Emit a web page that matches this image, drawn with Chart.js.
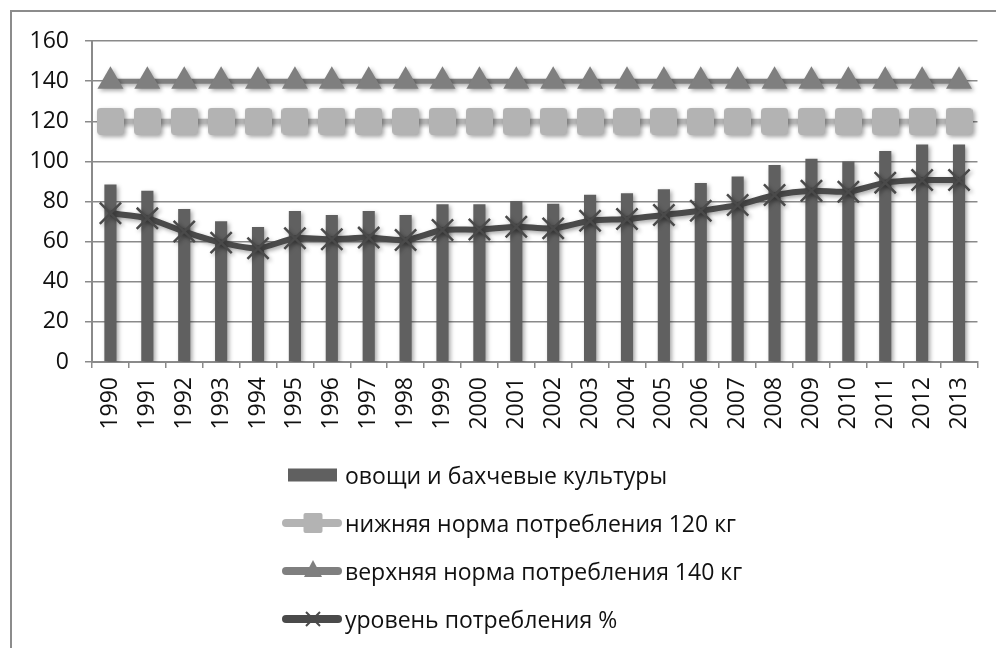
<!DOCTYPE html>
<html lang="ru">
<head>
  <meta charset="UTF-8" />
  <title>Потребление овощей и бахчевых культур</title>
  <style>
    body {
      margin: 0;
      background: #fff;
      font-family: 'Open Sans', sans-serif;
      overflow: hidden;
    }
    .frame {
      position: absolute;
      left: 10px;
      top: 10px;
      width: 1000px;
      height: 700px;
      border: 2px solid #8c8c8c;
    }
    .wrap {
      position: absolute;
      left: 0;
      top: 0;
      width: 996px;
      height: 440px;
    }
    .legend {
      position: absolute;
      left: 282px;
      top: 451px;
    }
    .legend-item {
      display: flex;
      align-items: center;
      height: 48px;
      font-size: 23px;
      color: #111;
    }
    .legend-item canvas {
      margin-right: 3px;
    }
  </style>
</head>
<body>
  <div class="frame"></div>
  <div class="wrap"><canvas id="chart" width="996" height="440"></canvas></div>
  <div class="legend" id="legend"></div>

  <script src="https://cdn.jsdelivr.net/npm/chart.js"></script>
  <script>
    const years = ['1990', '1991', '1992', '1993', '1994', '1995', '1996', '1997', '1998', '1999', '2000', '2001',
                   '2002', '2003', '2004', '2005', '2006', '2007', '2008', '2009', '2010', '2011', '2012', '2013'];
    const vegetables = [88.5, 85.4, 76.3, 70.1, 67.3, 75.3, 73.3, 75.3, 73.3, 78.6, 78.6, 80.3,
                        78.9, 83.4, 84.1, 86.1, 89.2, 92.4, 98.2, 101.3, 100.0, 105.2, 108.4, 108.4];
    const lowerNorm = [120, 120, 120, 120, 120, 120, 120, 120, 120, 120, 120, 120,
                       120, 120, 120, 120, 120, 120, 120, 120, 120, 120, 120, 120];
    const upperNorm = [140, 140, 140, 140, 140, 140, 140, 140, 140, 140, 140, 140,
                       140, 140, 140, 140, 140, 140, 140, 140, 140, 140, 140, 140];
    const consumptionLevel = [74.1, 71.6, 65.0, 59.5, 56.7, 61.7, 61.2, 62.0, 60.8, 65.8, 66.0, 67.4,
                              66.6, 70.4, 71.3, 73.3, 75.4, 78.3, 83.2, 85.4, 84.9, 89.4, 90.7, 90.7];
    const yTicks = [0, 20, 40, 60, 80, 100, 120, 140, 160];

    const gridColor = '#8a8a8a';
    const tickFont = { family: "'Open Sans', sans-serif", size: 23 };

    // rounded square marker for the 120 kg line
    function roundedSquare(size, radius, color) {
      const cv = document.createElement('canvas');
      cv.width = size;
      cv.height = size;
      const c = cv.getContext('2d');
      c.fillStyle = color;
      c.beginPath();
      c.roundRect(0, 0, size, size, radius);
      c.fill();
      return cv;
    }

    // soft drop shadow like the original office chart
    const shadowPlugin = {
      id: 'shadow',
      beforeDatasetDraw(chart) {
        const ctx = chart.ctx;
        ctx.save();
        ctx.shadowColor = 'rgba(0,0,0,0.35)';
        ctx.shadowBlur = 4;
        ctx.shadowOffsetX = 2;
        ctx.shadowOffsetY = 2;
      },
      afterDatasetDraw(chart) {
        chart.ctx.restore();
      }
    };

    const chart = new Chart(document.getElementById('chart').getContext('2d'), {
      type: 'bar',
      data: {
        labels: years,
        datasets: [
          {
            type: 'bar',
            label: 'овощи и бахчевые культуры',
            data: vegetables,
            backgroundColor: '#606060',
            barPercentage: 0.33,
            categoryPercentage: 1.0,
            order: 4,
            legendStyle: 'bar'
          },
          {
            type: 'line',
            label: 'нижняя норма потребления 120 кг',
            data: lowerNorm,
            borderColor: '#b3b3b3',
            backgroundColor: '#b3b3b3',
            borderWidth: 5,
            pointStyle: roundedSquare(27, 4, '#b3b3b3'),
            pointRadius: 14,
            pointBorderWidth: 0,
            order: 3,
            legendStyle: 'rect'
          },
          {
            type: 'line',
            label: 'верхняя норма потребления 140 кг',
            data: upperNorm,
            borderColor: '#7f7f7f',
            backgroundColor: '#7f7f7f',
            borderWidth: 5,
            pointStyle: 'triangle',
            pointRadius: 15,
            pointBorderWidth: 0,
            order: 2,
            legendStyle: 'triangle'
          },
          {
            type: 'line',
            label: 'уровень потребления %',
            data: consumptionLevel,
            borderColor: '#4a4a4a',
            backgroundColor: '#4a4a4a',
            borderWidth: 6,
            tension: 0.25,
            pointStyle: 'crossRot',
            pointRadius: 15,
            pointBorderColor: '#4a4a4a',
            pointBorderWidth: 2.5,
            order: 1,
            legendStyle: 'cross'
          }
        ]
      },
      options: {
        responsive: false,
        animation: false,
        layout: { padding: { top: 41, right: 15, left: 0, bottom: 0 } },
        plugins: {
          legend: { display: false },
          tooltip: { enabled: false }
        },
        scales: {
          x: {
            afterFit: s => { s.height = 78; },
            grid: { drawOnChartArea: false, offset: true, tickLength: 6, color: gridColor, lineWidth: 1.5 },
            border: { color: gridColor, width: 2 },
            ticks: { color: '#111', font: tickFont, minRotation: 90, maxRotation: 90, autoSkip: false, padding: 9 }
          },
          y: {
            min: 0,
            max: 160,
            afterFit: s => { s.width = 92; },
            afterBuildTicks: s => { s.ticks = yTicks.map(v => ({ value: v })); },
            grid: { color: gridColor, lineWidth: 1.5, tickLength: 7 },
            border: { color: gridColor, width: 2 },
            ticks: { color: '#111', font: tickFont, padding: 16 }
          }
        }
      },
      plugins: [shadowPlugin]
    });

    // vertical legend, one row per series
    function drawIcon(cv, ds) {
      const c = cv.getContext('2d');
      const cy = cv.height / 2;
      c.fillStyle = ds.backgroundColor;
      c.strokeStyle = ds.borderColor;
      if (ds.legendStyle === 'bar') {
        c.fillRect(6, cy - 6.5, 49, 13);
        return;
      }
      c.lineWidth = 8;
      c.lineCap = 'round';
      c.beginPath();
      c.moveTo(4, cy);
      c.lineTo(56, cy);
      c.stroke();
      const cx = 31;
      if (ds.legendStyle === 'rect') {
        c.beginPath();
        c.roundRect(cx - 9.5, cy - 10, 19, 20, 2);
        c.fill();
      } else if (ds.legendStyle === 'triangle') {
        c.beginPath();
        c.moveTo(cx, cy - 11);
        c.lineTo(cx + 9, cy + 6);
        c.lineTo(cx - 9, cy + 6);
        c.closePath();
        c.fill();
      } else if (ds.legendStyle === 'cross') {
        c.lineWidth = 2;
        c.lineCap = 'butt';
        c.beginPath();
        c.moveTo(cx - 7, cy - 7); c.lineTo(cx + 7, cy + 7);
        c.moveTo(cx + 7, cy - 7); c.lineTo(cx - 7, cy + 7);
        c.stroke();
      }
    }

    const legendBox = document.getElementById('legend');
    chart.data.datasets.forEach(ds => {
      const row = document.createElement('div');
      row.className = 'legend-item';
      const cv = document.createElement('canvas');
      cv.width = 60;
      cv.height = 26;
      drawIcon(cv, ds);
      const txt = document.createElement('span');
      txt.textContent = ds.label;
      row.appendChild(cv);
      row.appendChild(txt);
      legendBox.appendChild(row);
    });
  </script>
</body>
</html>
